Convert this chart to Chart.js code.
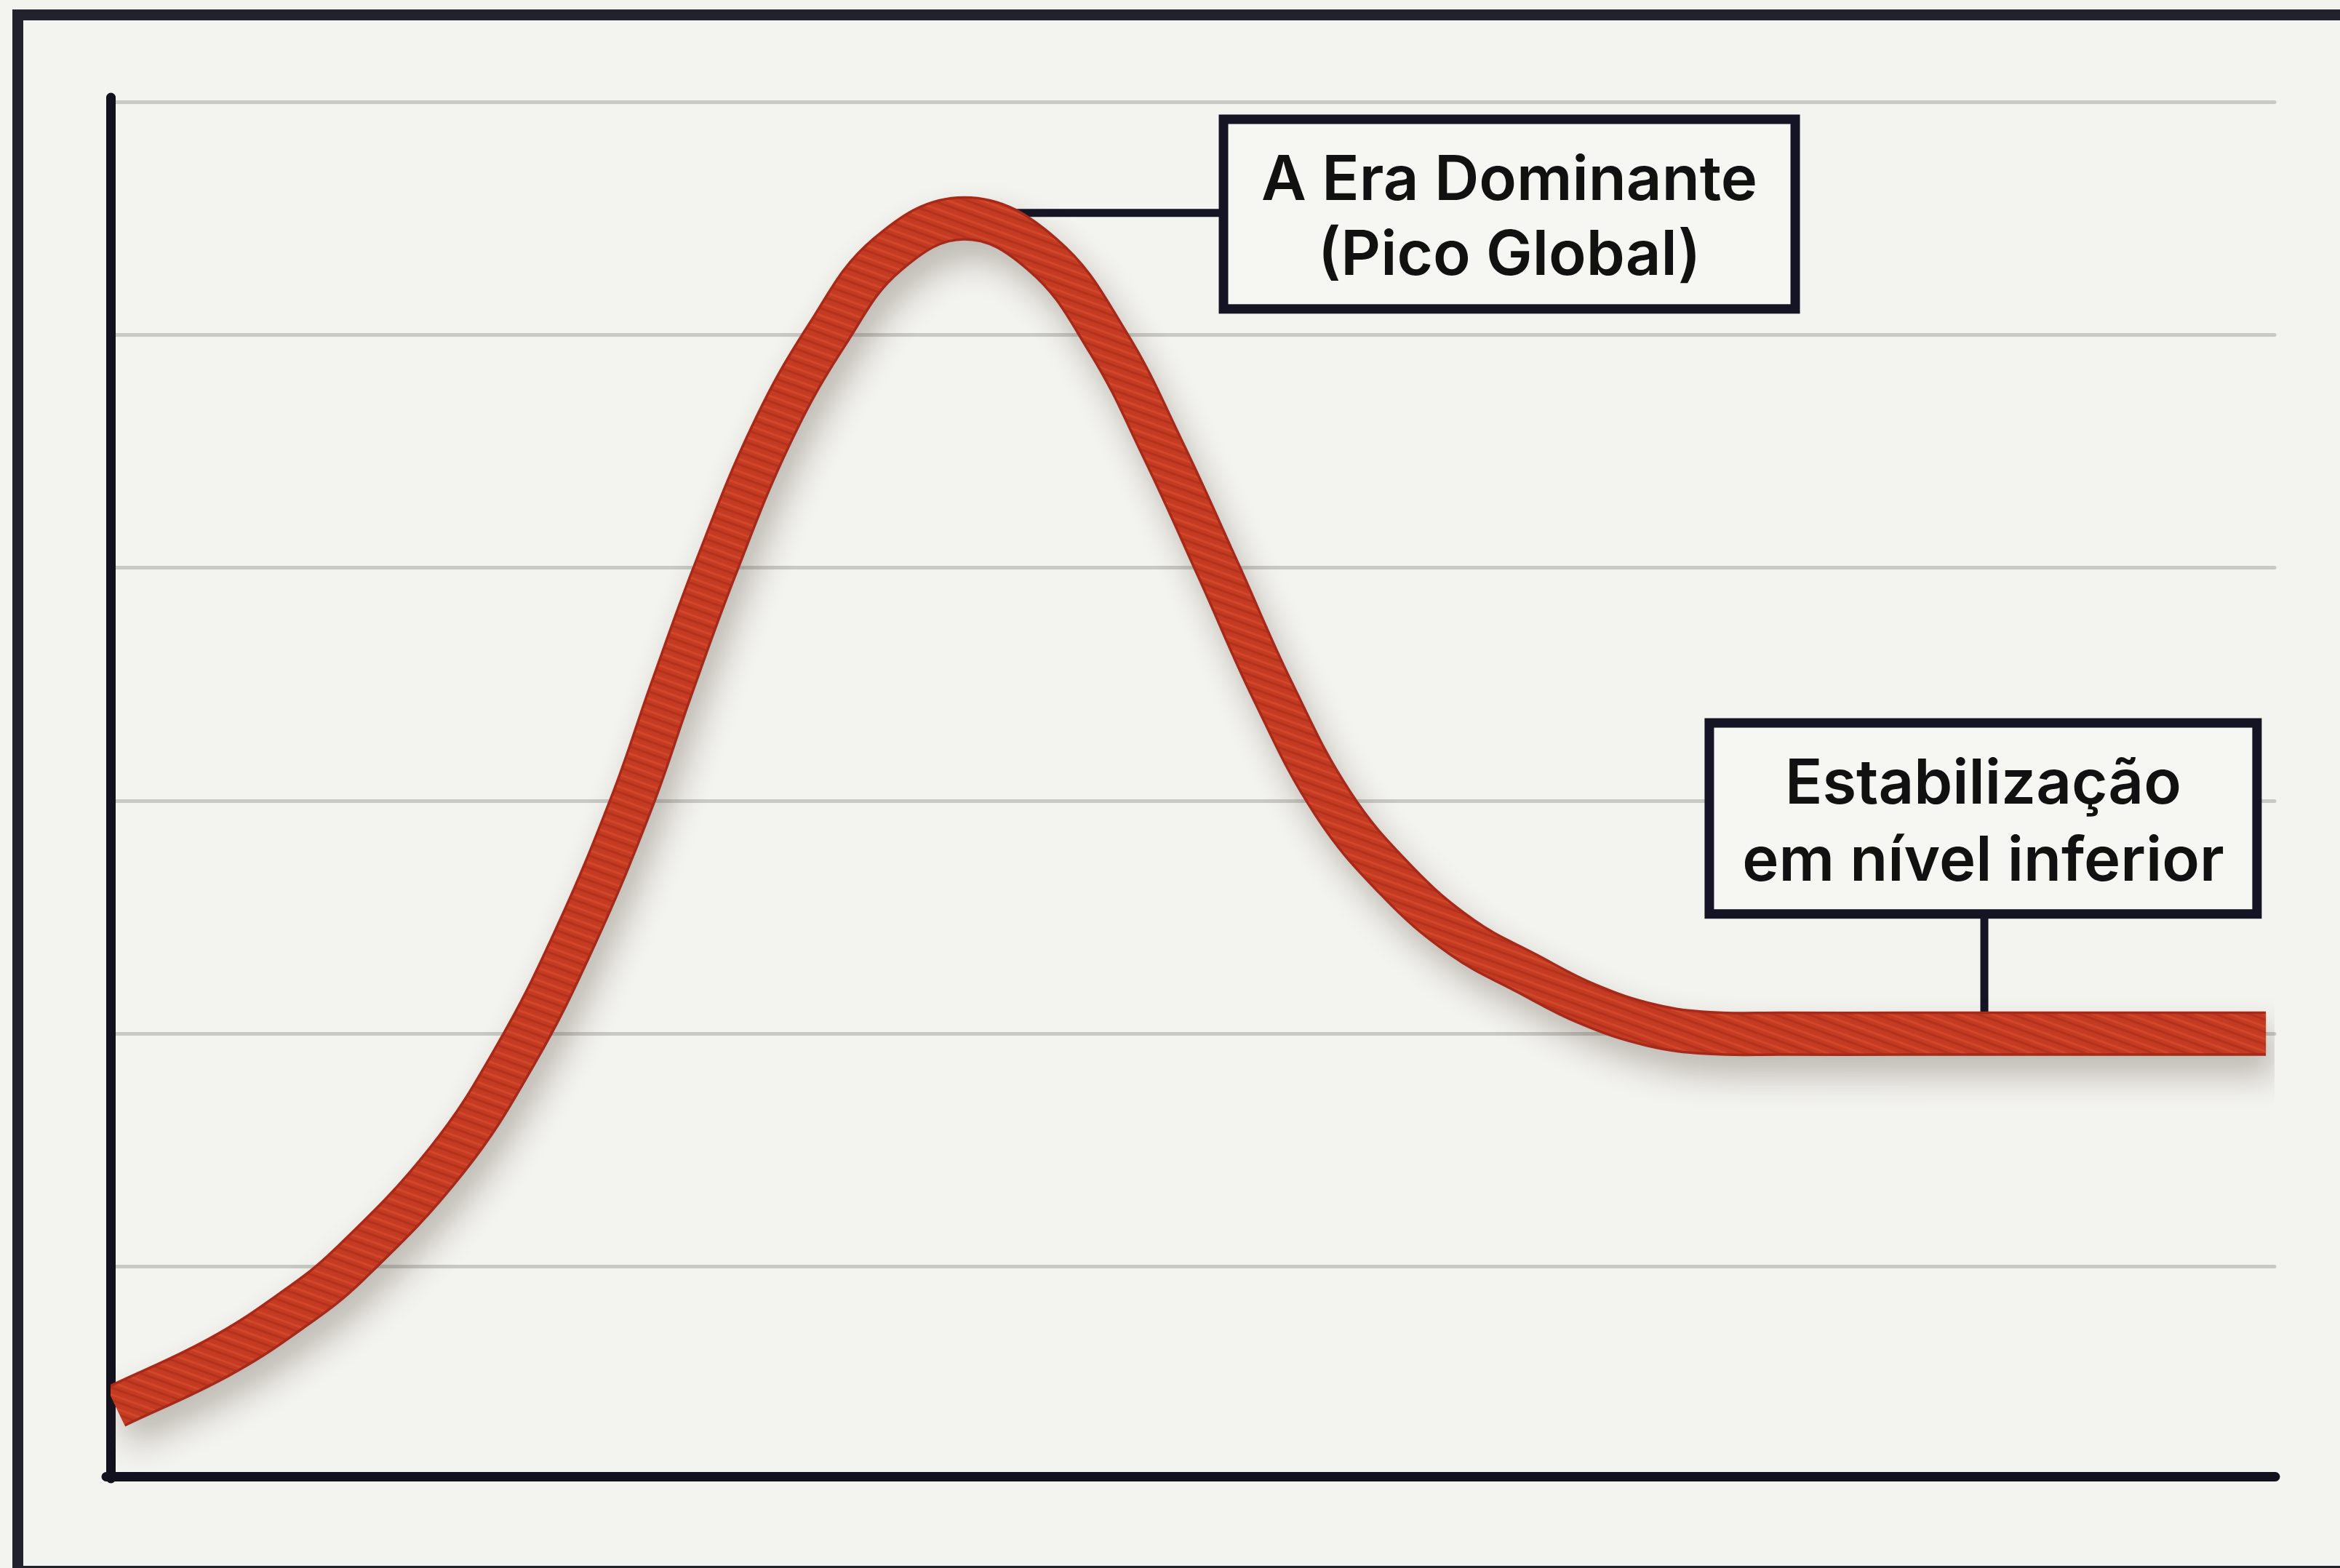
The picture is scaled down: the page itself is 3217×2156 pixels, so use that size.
<!DOCTYPE html>
<html>
<head>
<meta charset="utf-8">
<script src="https://cdn.jsdelivr.net/npm/chart.js@4.4.1/dist/chart.umd.min.js"></script>
<style>
  html, body { margin:0; padding:0; background:#f3f3ef; overflow:hidden; width:3217px; height:2156px; }
  #frame { position:absolute; left:17px; top:13px; width:3400px; height:2155px; border:15px solid #22222e; box-sizing:border-box; }
  #c { position:absolute; left:0; top:0; }
</style>
</head>
<body>
<div id="frame"></div>
<canvas id="c" width="3217" height="2156"></canvas>
<script>
// ---- data ----
const xValues = [0.24, 4.98, 8.34, 11.03, 15.56, 18.72, 21.45, 24.07, 25.88, 27.93, 30.52, 33.11, 35.90, 39.46, 43.06, 46.08, 48.67, 51.19, 53.71, 56.47, 59.43, 62.45, 65.48, 68.27, 71.19, 73.88, 77.24, 83.0, 90.0, 99.60];
const yValues = [0.40, 0.61, 0.81, 1.01, 1.46, 1.91, 2.41, 2.99, 3.47, 3.99, 4.57, 5.00, 5.345, 5.50, 5.345, 4.97, 4.50, 3.99, 3.47, 2.99, 2.657, 2.414, 2.258, 2.127, 2.037, 2.003, 2.00, 2.00, 2.00, 2.00];
const gridTicks = [1, 2, 3, 4, 5, 6];
const xRange = [0, 100];
const yRange = [0.1, 6];

// annotation boxes in data units
const noteLines1 = ['A Era Dominante', '(Pico Global)'];
const noteLines2 = ['Estabilização', 'em nível inferior'];
const noteBox1 = { x0: 51.43, x1: 77.85, y0: 5.925, y1: 5.111 };
const noteBox2 = { x0: 73.88, x1: 99.19, y0: 3.334, y1: 2.514 };
const link1 = { x0: 39.46, y0: 5.523, x1: 51.43, y1: 5.523 };
const link2 = { x0: 86.59, y0: 2.514, x1: 86.59, y1: 2.0 };

const points = xValues.map((x, i) => ({ x, y: yValues[i] }));

// rope texture pattern
function ropePattern(ctx) {
  const t = document.createElement('canvas');
  t.width = 10; t.height = 16;
  const g = t.getContext('2d');
  g.fillStyle = '#c43a22'; g.fillRect(0, 0, 10, 16);
  g.fillStyle = '#d1472a'; g.fillRect(0, 4, 10, 3);
  g.fillStyle = '#b2321c'; g.fillRect(0, 11, 10, 3);
  const p = ctx.createPattern(t, 'repeat');
  if (p.setTransform) p.setTransform(new DOMMatrix().rotateSelf(20));
  return p;
}

const canvas = document.getElementById('c');
const ctx = canvas.getContext('2d');
const pattern = ropePattern(ctx);

const shadowPlugin = {
  id: 'shadow',
  beforeDraw(chart) { chart.ctx.lineCap = 'round'; },
  beforeDatasetDraw(chart, args) {
    if (args.index === 1) {
      const c = chart.ctx; c.save();
      c.shadowColor = 'rgba(70,55,45,0.32)';
      c.shadowBlur = 45; c.shadowOffsetX = 12; c.shadowOffsetY = 26;
    }
  },
  afterDatasetDraw(chart, args) { if (args.index === 1) chart.ctx.restore(); }
};

const notesPlugin = {
  id: 'notes',
  beforeDatasetsDraw(chart) {
    const c = chart.ctx, sx = chart.scales.x, sy = chart.scales.y;
    c.save();
    c.strokeStyle = '#141424'; c.lineWidth = 11; c.lineCap = 'butt';
    [link1, link2].forEach(l => {
      c.beginPath();
      c.moveTo(sx.getPixelForValue(l.x0), sy.getPixelForValue(l.y0));
      c.lineTo(sx.getPixelForValue(l.x1), sy.getPixelForValue(l.y1));
      c.stroke();
    });
    c.restore();
  },
  afterDatasetsDraw(chart) {
    const c = chart.ctx, sx = chart.scales.x, sy = chart.scales.y;
    [[noteBox1, noteLines1, 103], [noteBox2, noteLines2, 106]].forEach(([b, lines, lh]) => {
      const x0 = sx.getPixelForValue(b.x0), x1 = sx.getPixelForValue(b.x1);
      const y0 = sy.getPixelForValue(b.y0), y1 = sy.getPixelForValue(b.y1);
      c.save();
      c.fillStyle = '#f6f6f2';
      c.fillRect(x0, y0, x1 - x0, y1 - y0);
      c.strokeStyle = '#141424'; c.lineWidth = 13; c.lineJoin = 'miter';
      c.strokeRect(x0, y0, x1 - x0, y1 - y0);
      c.fillStyle = '#111111';
      c.font = '600 85px Inter, "Noto Sans", sans-serif';
      c.textAlign = 'center'; c.textBaseline = 'middle';
      const cx = (x0 + x1) / 2, cy = (y0 + y1) / 2 + 7;
      lines.forEach((t, i) => c.fillText(t, cx, cy + (i - (lines.length - 1) / 2) * lh));
      c.restore();
    });
  }
};

new Chart(ctx, {
  type: 'line',
  data: {
    datasets: [
      { data: points, borderColor: pattern, borderWidth: 54, pointRadius: 0, fill: false,
        tension: 0.4, borderCapStyle: 'butt', borderJoinStyle: 'round' },
      { data: points, borderColor: '#a6291a', borderWidth: 61, pointRadius: 0, fill: false,
        tension: 0.4, borderCapStyle: 'butt', borderJoinStyle: 'round' }
    ]
  },
  options: {
    responsive: false, animation: false, events: [],
    layout: { padding: { left: 152, top: 140, right: 90, bottom: 118 } },
    plugins: { legend: { display: false }, tooltip: { enabled: false } },
    scales: {
      x: { type: 'linear', min: xRange[0], max: xRange[1],
           grid: { display: false }, ticks: { display: false },
           border: { display: true, color: '#12121f', width: 13 } },
      y: { type: 'linear', min: yRange[0], max: yRange[1],
           afterBuildTicks: s => { s.ticks = gridTicks.map(v => ({ value: v })); },
           grid: { color: '#c9c9c4', lineWidth: 5, drawTicks: false },
           ticks: { display: false },
           border: { display: true, color: '#12121f', width: 13 } }
    }
  },
  plugins: [shadowPlugin, notesPlugin]
});
</script>
</body>
</html>
